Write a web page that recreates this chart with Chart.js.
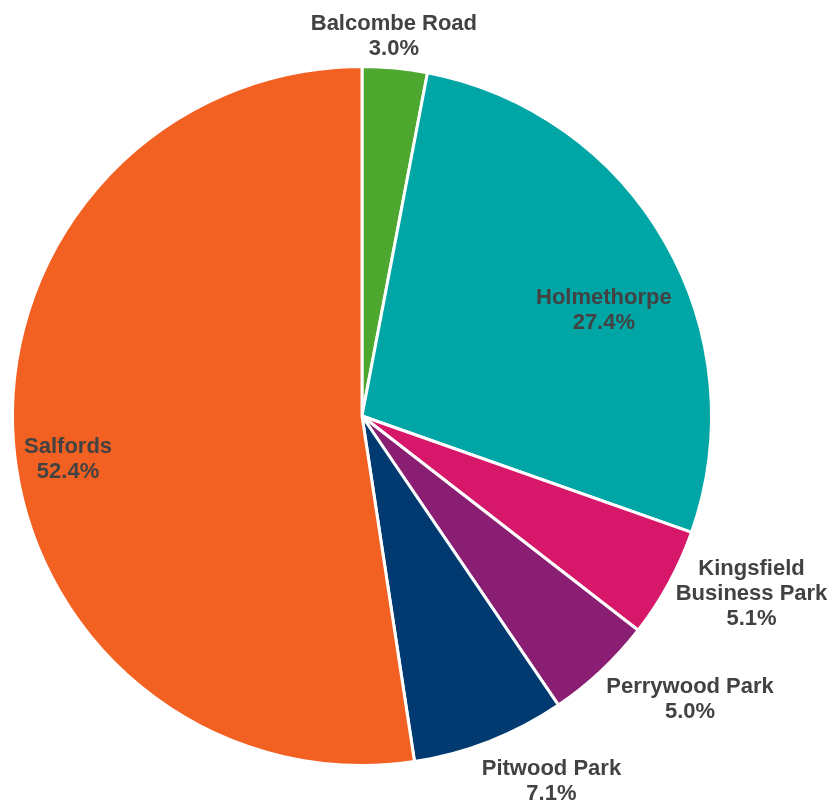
<!DOCTYPE html>
<html lang="en">
<head>
    <meta charset="UTF-8">
    <title>Site share</title>
    <script src="https://cdn.jsdelivr.net/npm/chart.js"></script>
    <style>
        body { margin: 0; background: #fff; }
        #wrap { width: 830px; height: 800px; }
    </style>
</head>
<body>
<div id="wrap"><canvas id="pieChart" width="830" height="800"></canvas></div>

<script>
    // data, clockwise from 12 o'clock
    var siteLabels = ['Balcombe Road', 'Holmethorpe', 'Kingsfield\nBusiness Park', 'Perrywood Park', 'Pitwood Park', 'Salfords'];
    var sharePct = [3.0, 27.4, 5.1, 5.0, 7.1, 52.4];
    var sliceColours = ['#4ea72e', '#00a5a5', '#d6176a', '#8a1e73', '#003a70', '#f26122'];

    // where each label sits: [radius factor, angle shift in degrees]
    var labelPlace = [[1.09, -0.6], [0.755, 6.3], [1.225, -4.1], [1.24, -6], [1.177, -6], [0.85, -4]];

    var pieLabels = {
        id: 'pieLabels',
        afterDatasetsDraw: function(chart) {
            var ctx = chart.ctx;
            var meta = chart.getDatasetMeta(0);
            ctx.save();
            ctx.font = 'bold 22px "Liberation Sans", Arial, sans-serif';
            ctx.fillStyle = '#424242';
            ctx.textAlign = 'center';
            ctx.textBaseline = 'middle';
            meta.data.forEach(function(arc, i) {
                var mid = (arc.startAngle + arc.endAngle) / 2 + labelPlace[i][1] * Math.PI / 180;
                var r = arc.outerRadius * labelPlace[i][0];
                var x = arc.x + Math.cos(mid) * r;
                var y = arc.y + Math.sin(mid) * r;
                var lines = siteLabels[i].split('\n');
                lines.push(sharePct[i].toFixed(1) + '%');
                var lh = 25;
                var top = y - (lines.length - 1) * lh / 2;
                lines.forEach(function(t, j) {
                    ctx.fillText(t, x, top + j * lh);
                });
            });
            ctx.restore();
        }
    };

    var ctx = document.getElementById('pieChart').getContext('2d');
    new Chart(ctx, {
        type: 'pie',
        data: {
            labels: siteLabels,
            datasets: [{
                data: sharePct,
                backgroundColor: sliceColours,
                borderColor: '#ffffff',
                borderWidth: 3
            }]
        },
        options: {
            responsive: false,
            animation: false,
            layout: { padding: { left: 11, right: 117, top: 65, bottom: 33 } },
            plugins: {
                legend: { display: false },
                tooltip: { enabled: false }
            }
        },
        plugins: [pieLabels]
    });
</script>
</body>
</html>
